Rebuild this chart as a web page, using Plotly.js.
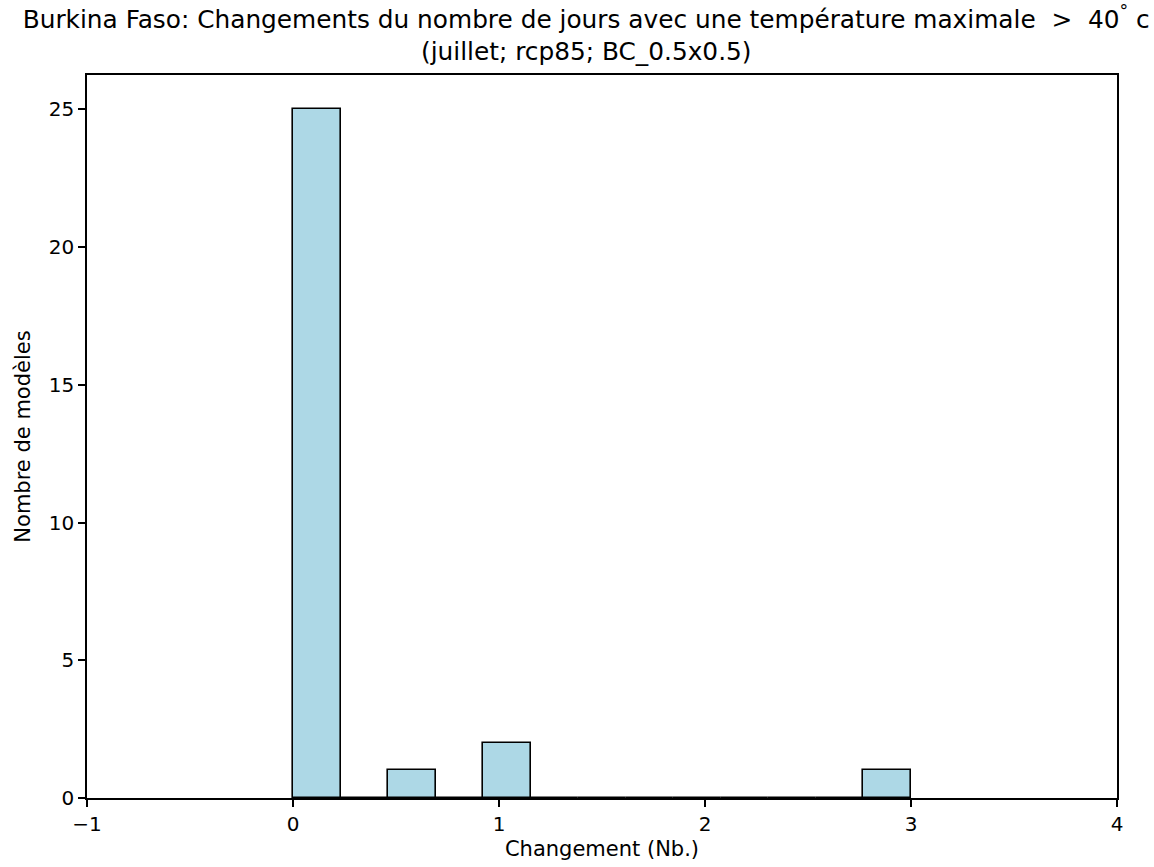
<!DOCTYPE html>
<html><head><meta charset="utf-8">
<script src="https://cdn.plot.ly/plotly-3.0.1.min.js"></script>
<style>html,body{margin:0;padding:0;background:#fff}</style>
</head><body>
<div id="chart" style="width:1154px;height:867px"></div>
<script>
// Histogram data: 13 bins between min and max change
const binMin = 0;
const binMax = 3;
const counts = [25, 0, 1, 0, 2, 0, 0, 0, 0, 0, 0, 0, 1];
const xTicks = [-1, 0, 1, 2, 3, 4];
const yTicks = [0, 5, 10, 15, 20, 25];
const titleText = "Burkina Faso: Changements du nombre de jours avec une température maximale  &gt;  40<sup>°</sup> c<br>(juillet; rcp85; BC_0.5x0.5)";
const xTitle = "Changement (Nb.)";
const yTitle = "Nombre de modèles";

const nBins = counts.length;
const binW = (binMax - binMin) / nBins;
const centers = counts.map((_, i) => binMin + binW * (i + 0.5));

const font = "DejaVu Sans, sans-serif";
Plotly.newPlot("chart", [{
  type: "bar",
  x: centers,
  y: counts,
  width: binW,
  marker: {color: "#add8e6", line: {color: "#000", width: 1.6}},
  hoverinfo: "x+y"
}], {
  width: 1154, height: 867,
  margin: {l: 87, r: 37, t: 75, b: 69},
  paper_bgcolor: "#fff", plot_bgcolor: "#fff",
  showlegend: false,
  bargap: 0,
  font: {family: font, color: "#000", size: 21},
  title: {text: titleText, x: 0.508, xanchor: "center", yref: "container", y: 0.968, yanchor: "top",
          font: {family: font, size: 24.8, color: "#000"}},
  xaxis: {
    range: [-1, 4], tickvals: xTicks, ticktext: xTicks.map(v => v < 0 ? "−" + Math.abs(v) : String(v)),
    ticks: "outside", ticklen: 7, tickwidth: 1.6, tickcolor: "#000",
    showline: true, linecolor: "#000", linewidth: 1.6, mirror: true,
    showgrid: false, zeroline: false,
    tickfont: {size: 20},
    title: {text: xTitle, font: {size: 21}, standoff: 7}
  },
  yaxis: {
    range: [0, 26.25], tickvals: yTicks,
    ticks: "outside", ticklen: 7, tickwidth: 1.6, tickcolor: "#000",
    showline: true, linecolor: "#000", linewidth: 1.6, mirror: true,
    showgrid: false, zeroline: false,
    tickfont: {size: 20},
    title: {text: yTitle, font: {size: 21}, standoff: 12}
  }
}, {displayModeBar: false});
</script>
</body></html>
